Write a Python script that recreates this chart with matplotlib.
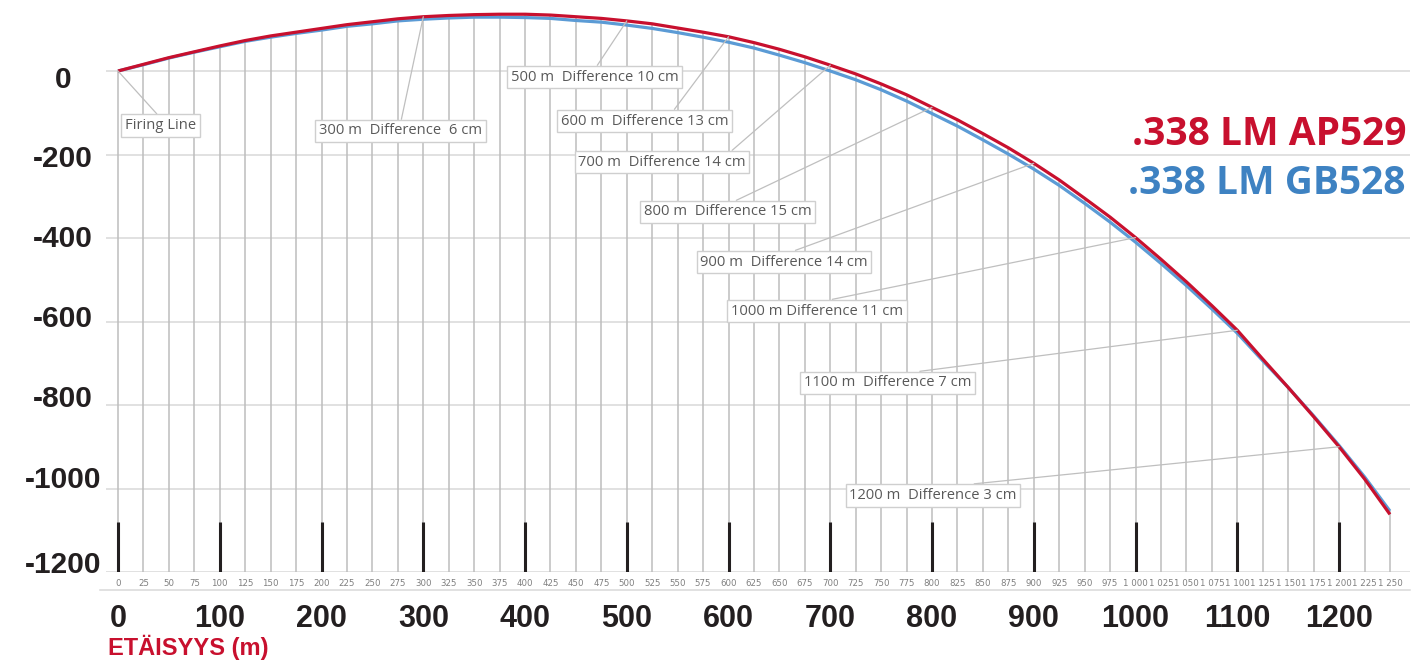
import matplotlib
matplotlib.use("Agg")
import matplotlib.pyplot as plt
from matplotlib.lines import Line2D
import numpy as np

# ---------------- data ----------------
distance = list(range(0, 1251, 25))  # metres
ap529 = [0, 16, 32, 46, 60, 73, 84, 93, 102, 111, 118, 125, 130, 133, 135, 136, 136,
         134, 130, 126, 120, 113, 103, 93, 82, 68, 52, 34, 14, -7, -31, -57, -87,
         -117, -150, -184, -221, -261, -305, -350, -399, -451, -505, -562, -621,
         -690, -758, -828, -900, -977, -1062]
gb528 = [0, 15, 31, 45, 58, 71, 81, 90, 98, 107, 113, 120, 124, 127, 129, 129, 128,
         126, 121, 117, 110, 102, 92, 81, 69, 55, 38, 20, 0, -21, -45, -72, -102,
         -132, -165, -199, -235, -274, -317, -362, -410, -461, -514, -570, -628,
         -694, -758, -826, -897, -972, -1054]
small_tick_labels = [f"{d:,}".replace(",", " ") if d >= 1000 else str(d) for d in distance]
big_ticks = [0, 100, 200, 300, 400, 500, 600, 700, 800, 900, 1000, 1100, 1200]
y_ticks = [0, -200, -400, -600, -800, -1000, -1200]
note_dist = [0, 300, 500, 600, 700, 800, 900, 1000, 1100, 1200]
note_text = ["Firing Line", "300 m  Difference  6 cm", "500 m  Difference 10 cm",
             "600 m  Difference 13 cm", "700 m  Difference 14 cm",
             "800 m  Difference 15 cm", "900 m  Difference 14 cm",
             "1000 m Difference 11 cm", "1100 m  Difference 7 cm",
             "1200 m  Difference 3 cm"]
series_names = [".338 LM AP529", ".338 LM GB528"]

# ---------------- layout / style ----------------
W, H = 1418, 663
RED = "#c8102e"
BLUE_LINE = "#5b9bd5"
BLUE_TXT = "#3e82c2"
DARK = "#231f20"
GRID = "#d9d9d9"
NARROW = ["Liberation Sans", "DejaVu Sans"]
OPEN = ["Open Sans", "DejaVu Sans"]

fig = plt.figure(figsize=(W / 100, H / 100), dpi=100)
ax_left, ax_right, ax_bottom, ax_top = 106, 1410, 572, 5
ax = fig.add_axes([ax_left / W, 1 - ax_bottom / H, (ax_right - ax_left) / W,
                   (ax_bottom - ax_top) / H])
ax.set_xlim(-11.8, 1269.7)
ax.set_ylim(-1200, 158.1)
for s in ax.spines.values():
    s.set_visible(False)

# horizontal gridlines
for yv in y_ticks:
    ax.axhline(yv, color=GRID, lw=1.1, zorder=0)

# drop lines
top_vals = np.maximum(np.array(ap529), np.array(gb528))
ax.vlines(distance, -1200, top_vals, color="#bdbdbd", lw=1.1, zorder=1)

# black 100 m markers
ax.vlines(big_ticks, -1200, -1080, color=DARK, lw=2.2, zorder=2)

# curves
ax.plot(distance, gb528, color=BLUE_LINE, lw=2.3, zorder=3, solid_capstyle="butt")
ax.plot(distance, ap529, color=RED, lw=2.3, zorder=4, solid_capstyle="butt")

# small category tick labels
ax.set_yticks([])
ax.set_xticks(distance)
ax.set_xticklabels(small_tick_labels, fontsize=6.2, color="#7f7f7f",
                   family=["DejaVu Sans"])
ax.tick_params(axis="x", length=0, pad=5)

# line beneath small tick labels
fig.add_artist(Line2D([100 / W, 1410 / W], [1 - 590 / H] * 2, color=GRID, lw=1.1))

# big x labels
for d in big_ticks:
    ax.text(d, (ax_bottom - 627) / (ax_bottom - ax_top), str(d),
            transform=ax.get_xaxis_transform(), ha="center", va="baseline",
            fontsize=22, fontweight="bold", color=DARK, family=NARROW)

# y labels (centered at x=63 px, baseline offsets in px)
y_base_off = [-17, -12, -9, -5, -2, 1, -1]
for yv, off in zip(y_ticks, y_base_off):
    ax.annotate(str(yv), xy=(0, yv), xycoords=("axes fraction", "data"),
                xytext=(63 - ax_left, off), textcoords="offset pixels",
                ha="center", va="baseline", fontsize=21.5, fontweight="bold",
                color=DARK, family=NARROW)

# axis title
fig.text(108 / W, 1 - 655 / H, "ETÄISYYS (m)", ha="left", va="baseline",
         fontsize=17, fontweight="bold", color=RED, family=NARROW)

# legend text
fig.text(1406 / W, 1 - 145 / H, series_names[0], ha="right", va="baseline",
         fontsize=28, fontweight="bold", color=RED, family=OPEN)
fig.text(1406 / W, 1 - 194 / H, series_names[1], ha="right", va="baseline",
         fontsize=28, fontweight="bold", color=BLUE_TXT, family=OPEN)

# annotations
box_pos = [(41.8, -130.5), (277.6, -143.7), (468.3, -14.4), (517.4, -119.8),
           (534.6, -218.0), (599.0, -337.7), (654.5, -457.5), (686.9, -574.9),
           (756.2, -747.3), (801.0, -1016.8)]
rel_x = [0.5, 0.5, 0.5, 0.66, 0.89, 0.5, 0.5, 0.47, 0.5, 0.5]
for d, txt, bp, rx in zip(note_dist, note_text, box_pos, rel_x):
    i = distance.index(d)
    ax.annotate(txt, xy=(d, ap529[i]), xytext=bp, textcoords="data",
                ha="center", va="center", fontsize=10.6, color="#595959",
                family=OPEN, zorder=6,
                bbox=dict(boxstyle="square,pad=0.25", fc="white", ec="#cfcfcf",
                          lw=1.0),
                arrowprops=dict(arrowstyle="-", color="#bfbfbf", lw=0.9,
                                shrinkA=0, shrinkB=0, relpos=(rx, 1.0)))

fig.savefig("out.png", dpi=100)
